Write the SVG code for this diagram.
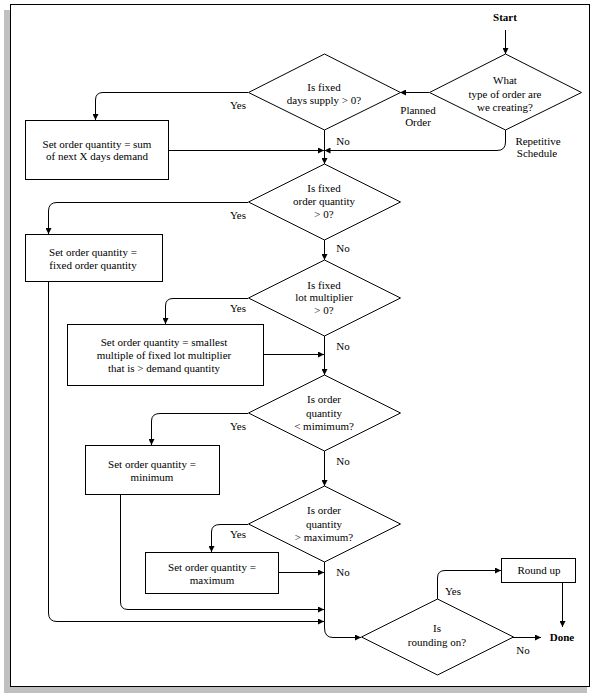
<svg xmlns="http://www.w3.org/2000/svg" width="596" height="698" viewBox="0 0 596 698">
<style>
text{font-family:"Liberation Serif","DejaVu Serif",serif;font-size:11px;fill:#000;text-anchor:middle}
.b{font-weight:bold}
.shape{fill:#fff;stroke:#000;stroke-width:1}
.con{fill:none;stroke:#000;stroke-width:1}
</style>
<defs>
<marker id="ah" markerUnits="userSpaceOnUse" markerWidth="7" markerHeight="6" refX="6" refY="3" orient="auto">
<path d="M0,0 L6,3 L0,6 z" fill="#000"/>
</marker>
</defs>
<rect x="4" y="10" width="583" height="683" fill="#c0c0c0"/>
<rect x="10.5" y="4.5" width="579" height="682" fill="#fff" stroke="#000" stroke-width="1"/>

<g id="connectors" class="con" marker-end="url(#ah)">
<path class="con" d="M505.5,30 V54" marker-end="url(#ah)"/>
<path class="con" d="M429,92.5 H400" marker-end="url(#ah)"/>
<path class="con" d="M248,92.5 H103 Q95.5,92.5 95.5,100 V120" marker-end="url(#ah)"/>
<path class="con" d="M324.5,130 V164" marker-end="url(#ah)"/>
<path class="con" d="M169,150.5 H324" marker-end="url(#ah)"/>
<path class="con" d="M505.5,130 V142 Q505.5,150.5 497,150.5 H324.5" marker-end="url(#ah)"/>
<path class="con" d="M248,202.5 H57 Q48.5,202.5 48.5,211 V234" marker-end="url(#ah)"/>
<path class="con" d="M48.5,282 V613 Q48.5,621.5 57,621.5 H324" marker-end="url(#ah)"/>
<path class="con" d="M324.5,240 V260" marker-end="url(#ah)"/>
<path class="con" d="M248,298.5 H173 Q165.5,298.5 165.5,306 V324" marker-end="url(#ah)"/>
<path class="con" d="M264,354.5 H324" marker-end="url(#ah)"/>
<path class="con" d="M324.5,336 V375" marker-end="url(#ah)"/>
<path class="con" d="M248,413.5 H160 Q151.5,413.5 151.5,421 V445" marker-end="url(#ah)"/>
<path class="con" d="M120.5,495 V602 Q120.5,609.5 128,609.5 H324" marker-end="url(#ah)"/>
<path class="con" d="M324.5,451 V486" marker-end="url(#ah)"/>
<path class="con" d="M248,524.5 H220 Q211.5,524.5 211.5,532 V552" marker-end="url(#ah)"/>
<path class="con" d="M279,572.5 H324" marker-end="url(#ah)"/>
<path class="con" d="M324.5,562 V628 Q324.5,637.5 333,637.5 H361" marker-end="url(#ah)"/>
<path class="con" d="M437.5,599 V578 Q437.5,570.5 445,570.5 H501" marker-end="url(#ah)"/>
<path class="con" d="M562.5,582 V627" marker-end="url(#ah)"/>
<path class="con" d="M513,637.5 H541" marker-end="url(#ah)"/>
</g>

<g id="labels">
<text x="238" y="109">Yes</text>
<text x="418" y="114">Planned</text>
<text x="418" y="126">Order</text>
<text x="343" y="145">No</text>
<text x="538" y="145">Repetitive</text>
<text x="537" y="157">Schedule</text>
<text x="238" y="219">Yes</text>
<text x="343" y="252">No</text>
<text x="238" y="312">Yes</text>
<text x="343" y="350">No</text>
<text x="238" y="429.5">Yes</text>
<text x="343" y="465">No</text>
<text x="238" y="538">Yes</text>
<text x="343" y="576">No</text>
<text x="453" y="594.5">Yes</text>
<text x="523" y="654">No</text>
</g>

<g id="start"><text class="b" x="505" y="21">Start</text></g>

<g id="q-order-type">
<polygon class="shape" points="505.5,54 581.5,92.5 505.5,130 429.5,92.5"/>
<text x="505" y="84">What</text>
<text x="505" y="97.5">type of order are</text>
<text x="505" y="111">we creating?</text>
</g>

<g id="q-days-supply">
<polygon class="shape" points="324.5,54 400.5,92.5 324.5,130 248.5,92.5"/>
<text x="324" y="90.5">Is fixed</text>
<text x="324" y="104">days supply &gt; 0?</text>
</g>

<g id="set-sum">
<rect class="shape" x="25.5" y="120.5" width="143" height="59"/>
<text x="97" y="148">Set order quantity = sum</text>
<text x="97" y="160">of next X days demand</text>
</g>

<g id="q-fixed-qty">
<polygon class="shape" points="324.5,164 400.5,202 324.5,240 248.5,202"/>
<text x="324" y="192">Is fixed</text>
<text x="324" y="205">order quantity</text>
<text x="324" y="218">&gt; 0?</text>
</g>

<g id="set-fixed">
<rect class="shape" x="25.5" y="234.5" width="137" height="47"/>
<text x="93" y="255.5">Set order quantity =</text>
<text x="93" y="269">fixed order quantity</text>
</g>

<g id="q-lot-mult">
<polygon class="shape" points="324.5,260 400.5,298 324.5,336 248.5,298"/>
<text x="324" y="289">Is fixed</text>
<text x="324" y="301">lot multiplier</text>
<text x="324" y="314">&gt; 0?</text>
</g>

<g id="set-multiple">
<rect class="shape" x="67.5" y="324.5" width="196" height="61"/>
<text x="164" y="346">Set order quantity = smallest</text>
<text x="164" y="359">multiple of fixed lot multiplier</text>
<text x="164" y="371.5">that is &gt; demand quantity</text>
</g>

<g id="q-minimum">
<polygon class="shape" points="324.5,375 400.5,413 324.5,451 248.5,413"/>
<text x="324" y="403">Is order</text>
<text x="324" y="416.5">quantity</text>
<text x="324" y="429.5">&lt; mimimum?</text>
</g>

<g id="set-minimum">
<rect class="shape" x="85.5" y="445.5" width="134" height="49"/>
<text x="152" y="468">Set order quantity =</text>
<text x="152" y="480.5">minimum</text>
</g>

<g id="q-maximum">
<polygon class="shape" points="324.5,486 400.5,524 324.5,562 248.5,524"/>
<text x="324" y="514">Is order</text>
<text x="324" y="527.5">quantity</text>
<text x="324" y="540.5">&gt; maximum?</text>
</g>

<g id="set-maximum">
<rect class="shape" x="145.5" y="552.5" width="133" height="41"/>
<text x="212" y="571">Set order quantity =</text>
<text x="212" y="584">maximum</text>
</g>

<g id="q-rounding">
<polygon class="shape" points="437.5,599 513.5,637 437.5,675 361.5,637"/>
<text x="437" y="632">Is</text>
<text x="437" y="645.5">rounding on?</text>
</g>

<g id="round-up">
<rect class="shape" x="501.5" y="558.5" width="74" height="24"/>
<text x="539" y="574">Round up</text>
</g>

<g id="done"><text class="b" x="562" y="641">Done</text></g>
</svg>
